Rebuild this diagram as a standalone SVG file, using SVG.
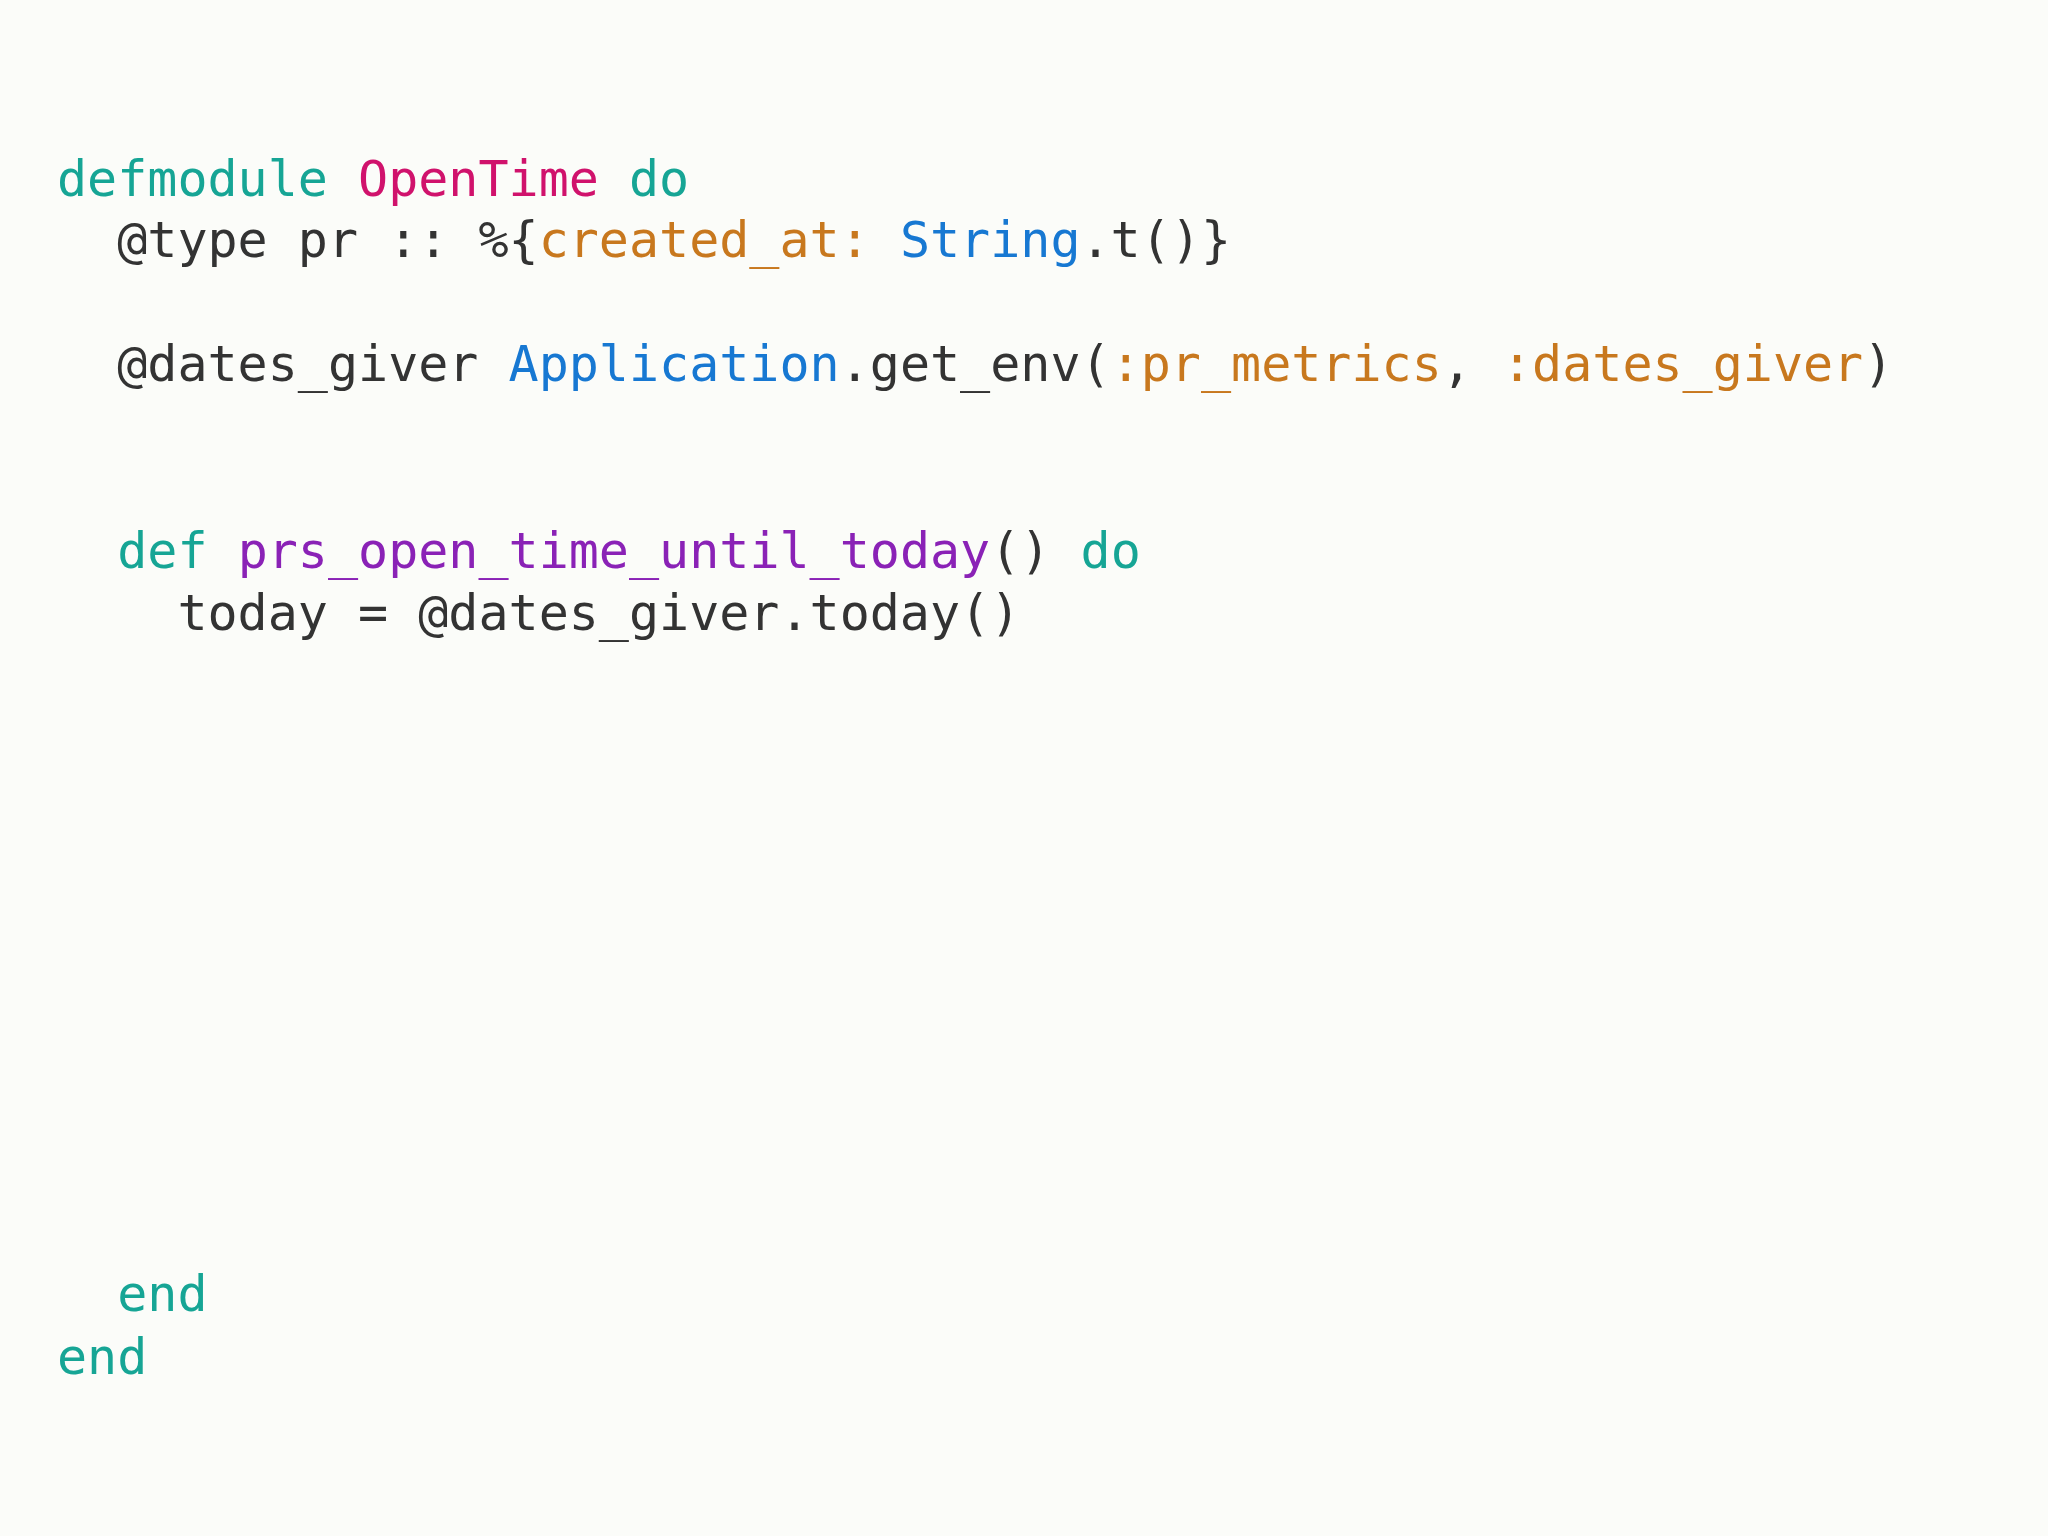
<svg xmlns="http://www.w3.org/2000/svg" width="2048" height="1536" viewBox="0 0 2048 1536">
<style>
text{font-family:"DejaVu Sans Mono","Liberation Mono",monospace;font-size:50px;fill:#333;white-space:pre}
.k{fill:#16a595}.m{fill:#d0126c}.o{fill:#c8781e}.b{fill:#1778d2}.p{fill:#8a22b6}
</style>
<rect width="2048" height="1536" fill="#fbfcf9"/>
<text x="57" y="196" xml:space="preserve"><tspan class="k">defmodule</tspan> <tspan class="m">OpenTime</tspan> <tspan class="k">do</tspan></text>
<text x="57" y="257" xml:space="preserve">  @type pr :: %{<tspan class="o">created_at:</tspan> <tspan class="b">String</tspan>.t()}</text>
<text x="57" y="381" xml:space="preserve">  @dates_giver <tspan class="b">Application</tspan>.get_env(<tspan class="o">:pr_metrics</tspan>, <tspan class="o">:dates_giver</tspan>)</text>
<text x="57" y="568" xml:space="preserve">  <tspan class="k">def</tspan> <tspan class="p">prs_open_time_until_today</tspan>() <tspan class="k">do</tspan></text>
<text x="57" y="630" xml:space="preserve">    today = @dates_giver.today()</text>
<text x="57" y="1311" xml:space="preserve">  <tspan class="k">end</tspan></text>
<text x="57" y="1374" xml:space="preserve"><tspan class="k">end</tspan></text>
</svg>
